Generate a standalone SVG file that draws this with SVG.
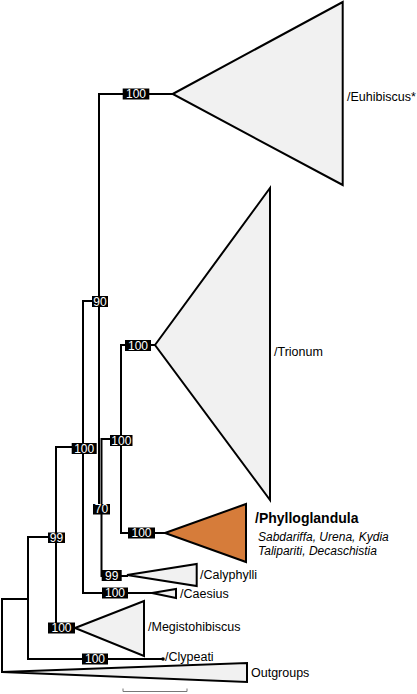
<svg xmlns="http://www.w3.org/2000/svg" width="417" height="694" viewBox="0 0 417 694">
<style>
.br{fill:none;stroke:#000;stroke-width:2;stroke-linejoin:miter;stroke-linecap:square}
.tri{fill:#f1f1f1;stroke:#000;stroke-width:2;stroke-linejoin:miter}
.orange{fill:#d67c3a}
.bx{fill:#000}
.bt{fill:#fff;font-family:"Liberation Sans",Arial,sans-serif;font-size:12px;text-anchor:middle}
.lb{fill:#000;font-family:"Liberation Sans",Arial,sans-serif;font-size:12.5px}
.bold{font-weight:bold;font-size:14px}
.it{font-style:italic;font-size:12px}
</style>
<rect width="417" height="694" fill="#fff"/>
<g id="connectors">
<path class="br" d="M2,599 V672 M2,599 H28 M28,537 V659 M28,537 H56 M28,659 H163 M56,447 V628 M56,447 H83 M56,628 H75 M83,301 V593 M83,301 H99 M83,593 H152 M99,94 V508 M99,94 H172.7 M99,508 H101.5 M101.5,439 V576 M101.5,439 H121 M101.5,576 H127 M121,345 V533 M121,345 H155 M121,533 H165"/>
<circle cx="163" cy="659" r="1.8" fill="#000"/>
</g>
<g id="euhibiscus">
<polygon class="tri" points="172.7,94 342.7,2 342.7,185"/>
<text class="lb" x="347" y="101">/Euhibiscus*</text>
</g>
<g id="trionum">
<polygon class="tri" points="155,345 270,188 270,500"/>
<text class="lb" x="274" y="356">/Trionum</text>
</g>
<g id="phylloglandula">
<polygon class="tri orange" points="165,533 246,504 246,562"/>
<text class="lb bold" x="255" y="523">/Phylloglandula</text>
<text class="lb it" x="258" y="541">Sabdariffa, Urena, Kydia</text>
<text class="lb it" x="258" y="555">Talipariti, Decaschistia</text>
</g>
<g id="calyphylli">
<polygon class="tri" points="127,575 196.7,564 196.7,586"/>
<text class="lb" x="200" y="579">/Calyphylli</text>
</g>
<g id="caesius">
<polygon class="tri" points="152,593 176,589 176,598"/>
<text class="lb" x="180" y="598">/Caesius</text>
</g>
<g id="megistohibiscus">
<polygon class="tri" points="75,628 144,601 144,656"/>
<text class="lb" x="148" y="631">/Megistohibiscus</text>
</g>
<g id="clypeati">
<text class="lb" x="165" y="661">/Clypeati</text>
</g>
<g id="outgroups">
<polygon class="tri" points="2,672 247,663 247,682"/>
<text class="lb" x="251" y="677">Outgroups</text>
</g>
<g id="support-labels">
<rect class="bx" x="122.7" y="88.5" width="26.6" height="11"/><text class="bt" x="136" y="98.3">100</text>
<rect class="bx" x="92" y="296" width="16" height="11"/><text class="bt" x="100" y="305.8">90</text>
<rect class="bx" x="125" y="340" width="26" height="11"/><text class="bt" x="138" y="349.8">100</text>
<rect class="bx" x="110" y="435" width="22.5" height="11"/><text class="bt" x="121.3" y="444.8">100</text>
<rect class="bx" x="71.7" y="443" width="25" height="11"/><text class="bt" x="84.2" y="452.8">100</text>
<rect class="bx" x="93" y="504" width="17" height="10.5"/><text class="bt" x="101.5" y="513.3">70</text>
<rect class="bx" x="128" y="527.5" width="27" height="11"/><text class="bt" x="141.5" y="537.3">100</text>
<rect class="bx" x="101.7" y="570" width="20" height="11"/><text class="bt" x="111.7" y="579.8">99</text>
<rect class="bx" x="48" y="532.5" width="17" height="10.5"/><text class="bt" x="56.5" y="541.8">99</text>
<rect class="bx" x="102" y="587.5" width="26" height="11"/><text class="bt" x="115" y="597.3">100</text>
<rect class="bx" x="48" y="622.5" width="27" height="11"/><text class="bt" x="61.5" y="632.3">100</text>
<rect class="bx" x="82" y="653.5" width="26" height="11"/><text class="bt" x="95" y="663.3">100</text>
</g>
<g id="scale-bar">
<path d="M123,688.5 V691.5 H187 V688.5" fill="none" stroke="#777" stroke-width="1"/>
</g>
</svg>
